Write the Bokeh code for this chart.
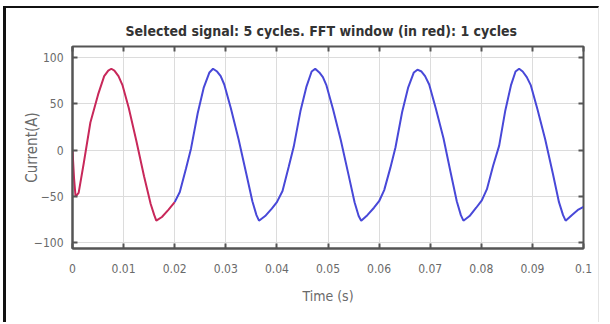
from bokeh.plotting import figure
from bokeh.models import FixedTicker, LinearAxis, Range1d
from bokeh.embed import file_html
from bokeh.resources import INLINE

# Current waveform, first cycle (the FFT window)
time_red = [0.0000, 0.0003, 0.0006, 0.0012, 0.0022, 0.0035, 0.0050, 0.0062, 0.0070,
            0.0076, 0.0082, 0.0090, 0.0098, 0.0110, 0.0125, 0.0140, 0.0153, 0.0160,
            0.0164, 0.0175, 0.0188, 0.0200]
current_red = [0, -30, -50, -46, -14, 30, 60, 80, 86,
               88, 86, 80, 70, 46, 10, -28, -58, -70,
               -76, -72, -64, -56]

# Remaining four cycles
time_blue = [0.0200, 0.0210, 0.0222, 0.0232, 0.0245, 0.0257, 0.0268, 0.0275, 0.0283,
             0.0290, 0.0297, 0.0310, 0.0325, 0.0340, 0.0352, 0.0360, 0.0365, 0.0377,
             0.0390, 0.0400, 0.0411, 0.0423, 0.0433, 0.0446, 0.0458, 0.0468, 0.0475,
             0.0483, 0.0490, 0.0497, 0.0510, 0.0525, 0.0540, 0.0552, 0.0560, 0.0565,
             0.0577, 0.0590, 0.0600, 0.0610, 0.0622, 0.0632, 0.0645, 0.0657, 0.0668,
             0.0675, 0.0683, 0.0690, 0.0698, 0.0711, 0.0726, 0.0740, 0.0752, 0.0760,
             0.0765, 0.0777, 0.0790, 0.0801, 0.0811, 0.0823, 0.0835, 0.0847, 0.0858,
             0.0867, 0.0874, 0.0881, 0.0889, 0.0897, 0.0910, 0.0925, 0.0940, 0.0952,
             0.0960, 0.0965, 0.0977, 0.0990, 0.1000]
current_blue = [-56, -45, -20, 2, 40, 68, 84, 88, 85,
                80, 71, 45, 12, -25, -55, -70, -76, -71,
                -63, -56, -44, -18, 4, 42, 69, 85, 88,
                84, 79, 70, 44, 11, -26, -56, -71, -76,
                -70, -62, -55, -43, -19, 3, 41, 68, 84,
                87, 85, 80, 71, 45, 13, -24, -55, -70,
                -76, -71, -62, -54, -42, -17, 5, 43, 70,
                85, 88, 85, 79, 70, 44, 12, -25, -56,
                -70, -76, -70, -64, -61]

x_ticks = [0, 0.01, 0.02, 0.03, 0.04, 0.05, 0.06, 0.07, 0.08, 0.09, 0.1]
x_tick_labels = ["0", "0.01", "0.02", "0.03", "0.04", "0.05", "0.06", "0.07", "0.08", "0.09", "0.1"]
y_ticks = [-100, -50, 0, 50, 100]

FONT = "DejaVu Sans Condensed"
AXIS_GRAY = "#555555"
LABEL_GRAY = "#6a6a6a"

p = figure(width=596, height=316, output_backend="svg", toolbar_location=None,
           x_range=Range1d(0, 0.1), y_range=Range1d(-106, 112),
           min_border_left=66, min_border_right=19, min_border_top=38, min_border_bottom=76,
           title="Selected signal: 5 cycles. FFT window (in red): 1 cycles")
p.styles = {"border-left": "3px solid #111111", "border-top": "2px solid #111111",
            "border-right": "1px solid #e4e4e4", "margin-left": "3px", "margin-top": "6px"}

p.title.text_font = FONT
p.title.text_font_size = "14px"
p.title.text_font_style = "bold"
p.title.text_color = "#333333"
p.title.align = "left"
p.title.offset = 53
p.title.standoff = 16

p.outline_line_color = AXIS_GRAY
p.outline_line_width = 2

p.line(time_red, current_red, line_color="#c8285a", line_width=2)
p.line(time_blue, current_blue, line_color="#4848d8", line_width=2)

for ax in (p.xaxis[0], p.yaxis[0]):
    ax.axis_line_color = AXIS_GRAY
    ax.axis_line_width = 2
    ax.major_tick_in = 5
    ax.major_tick_out = 0
    ax.major_tick_line_color = AXIS_GRAY
    ax.major_tick_line_width = 2
    ax.minor_tick_line_color = None
    ax.major_label_text_font = FONT
    ax.major_label_text_font_size = "12px"
    ax.major_label_text_color = LABEL_GRAY
    ax.axis_label_text_font = FONT
    ax.axis_label_text_font_style = "normal"
    ax.axis_label_text_color = LABEL_GRAY

p.xaxis[0].ticker = FixedTicker(ticks=x_ticks)
p.xaxis[0].major_label_overrides = {t: s for t, s in zip(x_ticks, x_tick_labels)}
p.xaxis[0].major_label_standoff = 15
p.xaxis[0].axis_label = "Time (s)"
p.xaxis[0].axis_label_text_font_size = "14px"
p.xaxis[0].axis_label_standoff = 12

p.yaxis[0].ticker = FixedTicker(ticks=y_ticks)
p.yaxis[0].major_label_standoff = 9
p.yaxis[0].axis_label = "Current(A)"
p.yaxis[0].axis_label_text_font_size = "15px"
p.yaxis[0].axis_label_standoff = -10

# Inward ticks along the top and right edges of the box
top = LinearAxis(ticker=FixedTicker(ticks=x_ticks), major_label_text_alpha=0,
                 major_label_text_font_size="1px", axis_line_color=AXIS_GRAY,
                 major_tick_in=5, major_tick_out=0, major_tick_line_color=AXIS_GRAY,
                 major_tick_line_width=2, minor_tick_line_color=None)
right = LinearAxis(ticker=FixedTicker(ticks=y_ticks), major_label_text_alpha=0,
                   major_label_text_font_size="1px", axis_line_color=AXIS_GRAY,
                   major_tick_in=5, major_tick_out=0, major_tick_line_color=AXIS_GRAY,
                   major_tick_line_width=2, minor_tick_line_color=None)
p.add_layout(top, "above")
p.add_layout(right, "right")

p.xgrid.ticker = FixedTicker(ticks=x_ticks)
p.ygrid.ticker = FixedTicker(ticks=y_ticks)
p.grid.grid_line_color = "#dcdcdc"
p.grid.grid_line_width = 1

open("out.html", "w").write(file_html(p, INLINE))
